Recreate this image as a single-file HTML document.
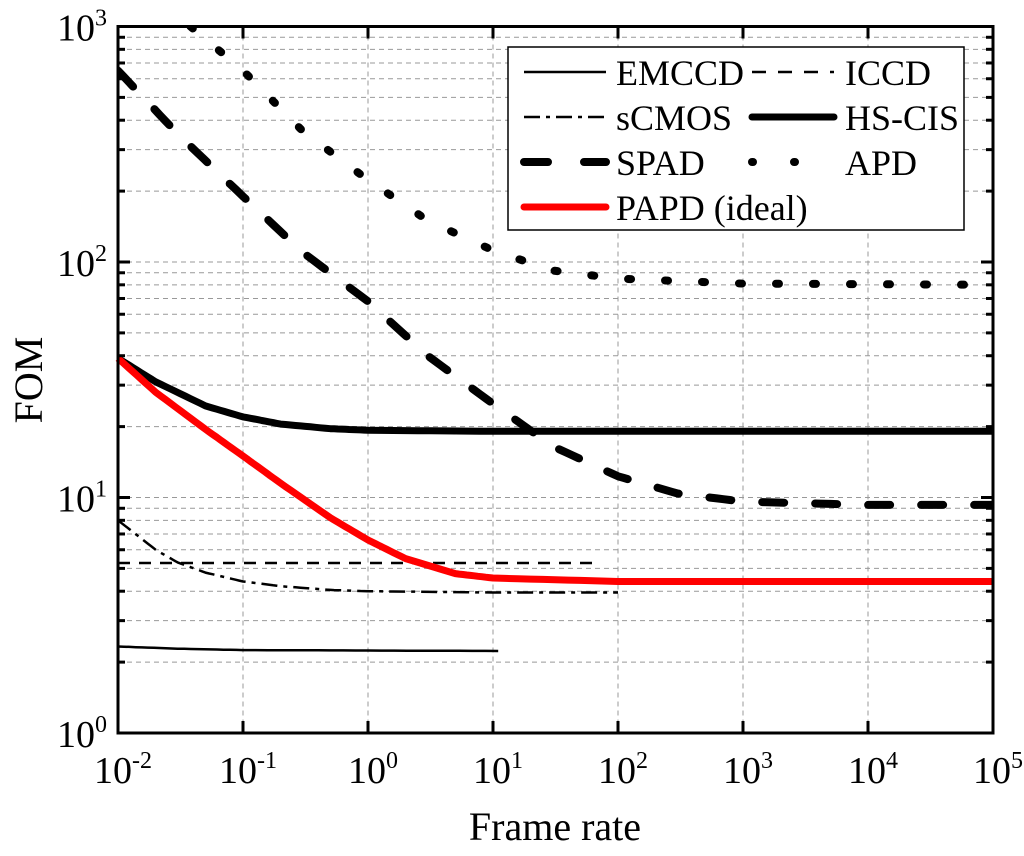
<!DOCTYPE html>
<html><head><meta charset="utf-8"><style>
html,body{margin:0;padding:0;background:#fff}
svg{display:block;font-family:"Liberation Serif",serif}
</style></head><body>
<svg id="chart" width="1024" height="856" viewBox="0 0 1024 856"></svg>
<script>
const xTickExps=[-2,-1,0,1,2,3,4,5];
const yTickExps=[0,1,2,3];
const emccdX=[0.01,0.03,0.1,1,11];
const emccdY=[2.33,2.28,2.25,2.24,2.23];
const iccdX=[0.01,1,66];
const iccdY=[5.27,5.27,5.27];
const scmosX=[0.01,0.02,0.03,0.05,0.1,0.2,0.5,1,10,100];
const scmosY=[8.0,6.0,5.3,4.8,4.4,4.2,4.05,4.0,3.95,3.95];
const hscisX=[0.01,0.02,0.05,0.1,0.2,0.5,1,10,100000];
const hscisY=[39,31,24.5,22,20.5,19.6,19.3,19.1,19.1];
const spadX=[0.01,0.03,0.1,0.3,1,3,10,30,100,300,1000,10000,100000];
const spadY=[650,350,190,110,68,40,25,16.5,12.3,10.4,9.6,9.3,9.3];
const apdX=[0.038,0.1,0.3,1,3,10,30,100,1000,100000];
const apdY=[1000,650,360,223,150,112,92,85,81,80];
const papdX=[0.01,0.02,0.05,0.1,0.2,0.5,1,2,5,10,100,100000];
const papdY=[39,28,19.5,15,11.5,8.2,6.6,5.5,4.75,4.55,4.4,4.4];

const NS="http://www.w3.org/2000/svg";
const svg=document.getElementById('chart');
const L=118,R=993,B=733,T=26.5,dx=(R-L)/7,dy=(B-T)/3;
function sx(v){return L+(Math.log10(v)+2)*dx;}
function sy(v){return B-Math.log10(v)*dy;}
function mk(tag,attrs,parent){const e=document.createElementNS(NS,tag);for(const k in attrs)e.setAttribute(k,attrs[k]);(parent||svg).appendChild(e);return e;}

const grid=mk('g',{});


xTickExps.forEach(e=>{const x=sx(Math.pow(10,e));mk('line',{x1:x,x2:x,y1:T,y2:B,stroke:'#999','stroke-width':1,'stroke-dasharray':'5,4'},grid);});
for(let d=0;d<3;d++)for(let m=1;m<10;m++){if(d==0&&m==1)continue;const y=sy(m*Math.pow(10,d));mk('line',{x1:L,x2:R,y1:y,y2:y,stroke:'#999','stroke-width':1,'stroke-dasharray':'5,4'},grid);}

function series(xs,ys,style,name){
  let pts=[];
  for(let i=0;i<xs.length-1;i++){
    const lx0=Math.log10(xs[i]),lx1=Math.log10(xs[i+1]),ly0=Math.log10(ys[i]),ly1=Math.log10(ys[i+1]);
    for(let k=0;k<10;k++){const t=k/10;pts.push([lx0+(lx1-lx0)*t,ly0+(ly1-ly0)*t]);}
  }
  pts.push([Math.log10(xs[xs.length-1]),Math.log10(ys[ys.length-1])]);
  const d=pts.map((p,i)=>(i?'L':'M')+(L+(p[0]+2)*dx).toFixed(1)+','+(B-p[1]*dy).toFixed(1)).join('');
  const a=Object.assign({d:d,fill:'none','stroke-linejoin':'round'},style);
  const p=mk('path',a);
  
  
}
const clip=mk('clipPath',{id:'pc'});mk('rect',{x:L,y:T,width:R-L,height:B-T},clip);
const styles={
 emccd:{stroke:'#000','stroke-width':2.5},
 iccd:{stroke:'#000','stroke-width':2.5,'stroke-dasharray':'12,9'},
 scmos:{stroke:'#000','stroke-width':2.5,'stroke-dasharray':'16,6,4,6'},
 hscis:{stroke:'#000','stroke-width':7},
 spad:{stroke:'#000','stroke-width':8,'stroke-dasharray':'22,31','stroke-linecap':'round'},
 apd:{stroke:'#000','stroke-width':8,'stroke-dasharray':'3,34','stroke-linecap':'round'},
 papd:{stroke:'#f00','stroke-width':7}
};
series(emccdX,emccdY,styles.emccd,'emccd-line');
series(iccdX,iccdY,styles.iccd,'iccd-line');
series(scmosX,scmosY,styles.scmos,'scmos-line');
series(hscisX,hscisY,styles.hscis,'hscis-line');
series(spadX,spadY,Object.assign({'clip-path':'url(#pc)'},styles.spad),'spad-line');
series(apdX,apdY,Object.assign({'clip-path':'url(#pc)'},styles.apd),'apd-line');
series(papdX,papdY,styles.papd,'papd-line');

const fr=mk('rect',{x:L,y:T,width:R-L,height:B-T,fill:'none',stroke:'#000','stroke-width':3});


xTickExps.forEach(e=>{const x=sx(Math.pow(10,e));
 mk('line',{x1:x,x2:x,y1:B,y2:B-12,stroke:'#000','stroke-width':3});
 mk('line',{x1:x,x2:x,y1:T,y2:T+12,stroke:'#000','stroke-width':3});
 const t=mk('text',{x:x+5,y:783,'font-size':38,'text-anchor':'middle'});
 
 
 t.innerHTML='10<tspan dy="-15" font-size="24">'+e+'</tspan>';
});
for(let d=0;d<3;d++)for(let m=1;m<10;m++){const y=sy(m*Math.pow(10,d));const len=m==1?12:7;
 mk('line',{x1:L,x2:L+len,y1:y,y2:y,stroke:'#000','stroke-width':3});
 mk('line',{x1:R,x2:R-len,y1:y,y2:y,stroke:'#000','stroke-width':3});}
yTickExps.forEach(e=>{const y=sy(Math.pow(10,e));
 const t=mk('text',{x:57,y:y+14,'font-size':38});
 
 
 t.innerHTML='10<tspan dy="-15" font-size="24">'+e+'</tspan>';
});
const xt=mk('text',{x:555,y:840,'font-size':40,'text-anchor':'middle'});xt.textContent='Frame rate';


const yt=mk('text',{x:0,y:0,'font-size':40,'text-anchor':'middle',transform:'translate(42,380) rotate(-90)'});yt.textContent='FOM';



const lg=mk('g',{});


mk('rect',{x:508,y:47,width:456,height:183,fill:'#fff',stroke:'#000','stroke-width':1.5},lg);
const legNames=['EMCCD','ICCD','sCMOS','HS-CIS','SPAD','APD','PAPD (ideal)'];
const legKeys=['emccd','iccd','scmos','hscis','spad','apd','papd'];
legNames.forEach((n,i)=>{
 const col=i%2,row=Math.floor(i/2);const y=72+row*45;const x0=col?752:524;
 const st=Object.assign({},styles[legKeys[i]]);
 if(legKeys[i]=='spad')st['stroke-dasharray']='24,36';
 if(legKeys[i]=='apd')st['stroke-dasharray']='1,41';
 if(legKeys[i]=='iccd')st['stroke-dasharray']='14,12';
 if(legKeys[i]=='hscis')st['stroke-linecap']='round';
 if(legKeys[i]=='papd')st['stroke-linecap']='round';
 const x1=col?x0+82:x0+82;
 const ln=mk('line',Object.assign({x1:x0+(legKeys[i]=='spad'?0:0),x2:x1,y1:y,y2:y},st),lg);
 
 
 const t=mk('text',{x:col?845:616,y:y+13,'font-size':36},lg);t.textContent=n;
 
 
});
</script>
</body></html>
